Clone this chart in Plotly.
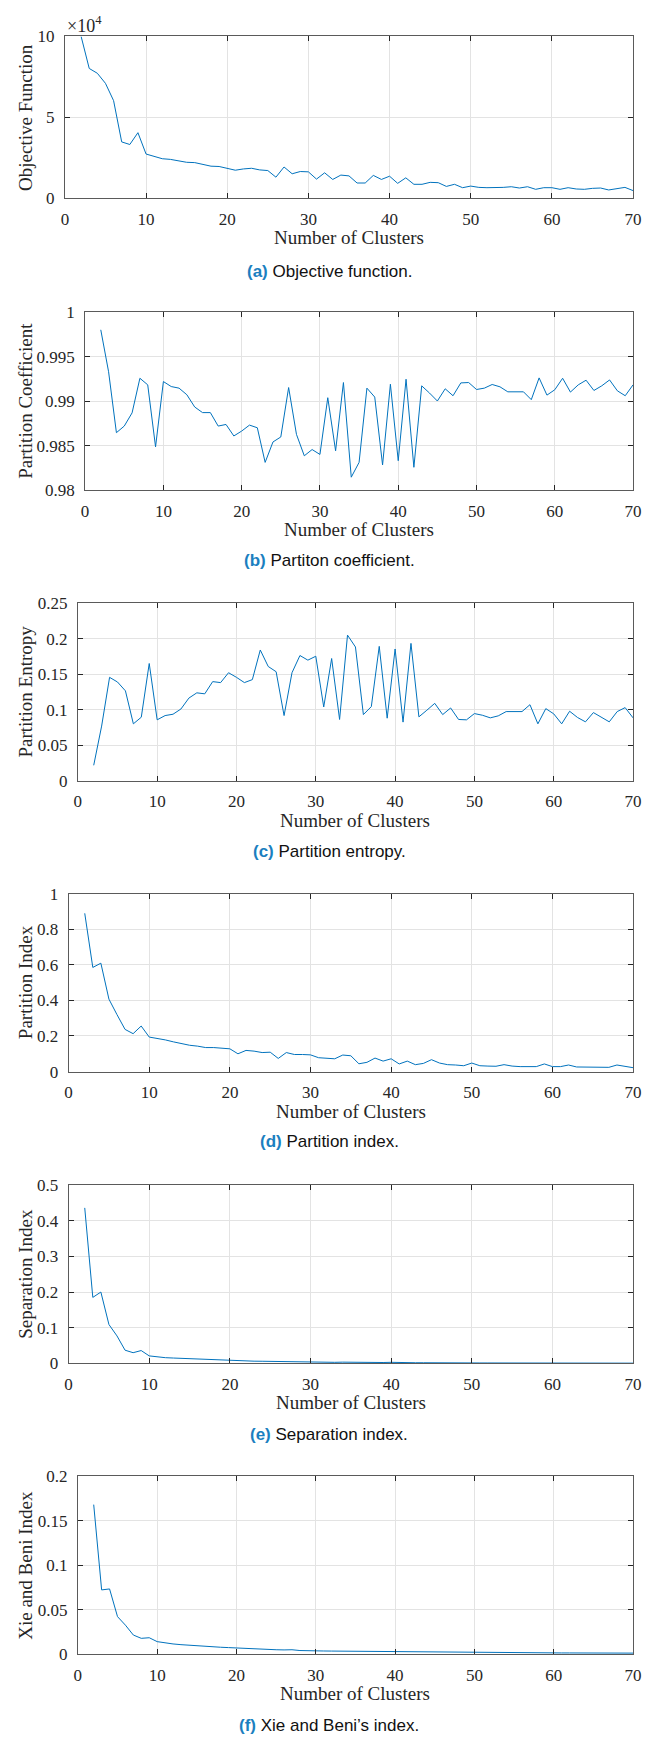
import plotly.graph_objects as go

W, H = 666, 1745

clusters = list(range(2, 71))

objective = [100000, 80200, 77200, 71000, 60300, 34800, 33200, 40500, 27300, 25900,
             24400, 24000, 23200, 22200, 22000, 20800, 19800, 19600, 18500, 17300,
             18100, 18500, 17500, 17100, 13000, 19300, 15100, 16500, 16300, 11800,
             15700, 11600, 14300, 13800, 9400, 9400, 14100, 11600, 13600, 9200,
             12600, 8600, 8600, 9800, 9600, 7300, 8600, 6500, 7500, 6700,
             6500, 6500, 6700, 7100, 6300, 7100, 5500, 6500, 6500, 5500,
             6500, 5700, 5500, 6100, 6300, 5100, 5700, 6700, 4700]

partition_coef = [0.99800, 0.99330, 0.98647, 0.98721, 0.98869, 0.99257, 0.99183, 0.98488, 0.99220, 0.99164,
                  0.99146, 0.99072, 0.98935, 0.98872, 0.98872, 0.98721, 0.98739, 0.98610, 0.98665, 0.98732,
                  0.98702, 0.98314, 0.98543, 0.98599, 0.99153, 0.98628, 0.98388, 0.98458, 0.98403, 0.99039,
                  0.98444, 0.99209, 0.98148, 0.98314, 0.99146, 0.99046, 0.98285, 0.99190, 0.98333, 0.99246,
                  0.98259, 0.99172, 0.99091, 0.99002, 0.99139, 0.99061, 0.99205, 0.99209, 0.99131, 0.99146,
                  0.99187, 0.99161, 0.99105, 0.99105, 0.99105, 0.99017, 0.99261, 0.99068, 0.99128, 0.99257,
                  0.99102, 0.99183, 0.99235, 0.99120, 0.99172, 0.99238, 0.99116, 0.99061, 0.99183]

partition_entropy = [0.0218, 0.0770, 0.1456, 0.1390, 0.1266, 0.0802, 0.0895, 0.1651, 0.0858, 0.0918,
                     0.0937, 0.1011, 0.1164, 0.1238, 0.1224, 0.1396, 0.1382, 0.1521, 0.1456, 0.1382,
                     0.1424, 0.1841, 0.1609, 0.1535, 0.0918, 0.1521, 0.1763, 0.1698, 0.1753, 0.1039,
                     0.1721, 0.0863, 0.2050, 0.1883, 0.0932, 0.1044, 0.1892, 0.0881, 0.1855, 0.0826,
                     0.1934, 0.0900, 0.0993, 0.1090, 0.0932, 0.1025, 0.0863, 0.0858, 0.0946, 0.0923,
                     0.0886, 0.0914, 0.0974, 0.0969, 0.0974, 0.1071, 0.0802, 0.1016, 0.0942, 0.0802,
                     0.0979, 0.0891, 0.0830, 0.0960, 0.0900, 0.0830, 0.0974, 0.1030, 0.0886]

partition_index = [0.889, 0.585, 0.609, 0.407, 0.320, 0.237, 0.213, 0.256, 0.194, 0.187,
                   0.178, 0.167, 0.157, 0.148, 0.143, 0.135, 0.135, 0.133, 0.128, 0.100,
                   0.119, 0.115, 0.107, 0.109, 0.074, 0.107, 0.096, 0.096, 0.094, 0.078,
                   0.076, 0.072, 0.093, 0.089, 0.044, 0.052, 0.076, 0.059, 0.072, 0.043,
                   0.059, 0.039, 0.046, 0.067, 0.048, 0.039, 0.037, 0.033, 0.048, 0.033,
                   0.031, 0.030, 0.039, 0.031, 0.028, 0.028, 0.028, 0.043, 0.028, 0.028,
                   0.037, 0.026, 0.026, 0.026, 0.024, 0.024, 0.037, 0.028, 0.022]

separation_index = [0.436, 0.185, 0.200, 0.109, 0.077, 0.037, 0.030, 0.036, 0.021, 0.018,
                    0.016, 0.015, 0.014, 0.012, 0.011, 0.010, 0.0095, 0.0090, 0.0080, 0.0065,
                    0.0065, 0.0062, 0.0060, 0.0055, 0.0045, 0.0060, 0.0045, 0.0045, 0.0040, 0.0030,
                    0.0035, 0.0030, 0.0035, 0.0030, 0.0020, 0.0020, 0.0030, 0.0025, 0.0030, 0.0020,
                    0.0025, 0.0018, 0.0018, 0.0020, 0.0018, 0.0015, 0.0016, 0.0013, 0.0014, 0.0012,
                    0.0012, 0.0011, 0.0012, 0.0011, 0.0010, 0.0011, 0.0009, 0.0010, 0.0009, 0.0008,
                    0.0009, 0.0008, 0.0008, 0.0008, 0.0008, 0.0007, 0.0008, 0.0008, 0.0007]

xie_beni = [0.1680, 0.0722, 0.0733, 0.0422, 0.0326, 0.0215, 0.0178, 0.0185, 0.0141, 0.0126,
            0.0115, 0.0107, 0.0100, 0.0093, 0.0085, 0.0081, 0.0078, 0.0074, 0.0070, 0.0059,
            0.0058, 0.0056, 0.0054, 0.0050, 0.0048, 0.0050, 0.0041, 0.0042, 0.0040, 0.0036,
            0.0035, 0.0034, 0.0033, 0.0032, 0.0031, 0.0030, 0.0030, 0.0029, 0.0028, 0.0027,
            0.0026, 0.0025, 0.0024, 0.0023, 0.0022, 0.0021, 0.0020, 0.0019, 0.0019, 0.0018,
            0.0018, 0.0017, 0.0017, 0.0016, 0.0016, 0.0016, 0.0015, 0.0015, 0.0015, 0.0014,
            0.0014, 0.0014, 0.0013, 0.0013, 0.0013, 0.0012, 0.0012, 0.0012, 0.0012]

x_ticks = [0, 10, 20, 30, 40, 50, 60, 70]
x_title = "Number of Clusters"

panels = [
    dict(y=objective, ytitle="Objective Function", yrange=[0, 100000],
         tickvals=[0, 50000, 100000], ticktext=["0", "5", "10"],
         cap_letter="(a)", cap_text=" Objective function.",
         box=(62.0, 27.7, 640.6, 191.3), cap_y=265),
    dict(y=partition_coef, ytitle="Partition Coefficient", yrange=[0.98, 1.0],
         tickvals=[0.98, 0.985, 0.99, 0.995, 1.0], ticktext=["0.98", "0.985", "0.99", "0.995", "1"],
         cap_letter="(b)", cap_text=" Partiton coefficient.",
         box=(82.6, 306.3, 640.6, 486.7), cap_y=557.7),
    dict(y=partition_entropy, ytitle="Partition Entropy", yrange=[0, 0.25],
         tickvals=[0, 0.05, 0.1, 0.15, 0.2, 0.25], ticktext=["0", "0.05", "0.1", "0.15", "0.2", "0.25"],
         cap_letter="(c)", cap_text=" Partition entropy.",
         box=(75.2, 600.7, 640.6, 780.3), cap_y=851.7),
    dict(y=partition_index, ytitle="Partition Index", yrange=[0, 1],
         tickvals=[0, 0.2, 0.4, 0.6, 0.8, 1], ticktext=["0", "0.2", "0.4", "0.6", "0.8", "1"],
         cap_letter="(d)", cap_text=" Partition index.",
         box=(65.8, 894.3, 640.6, 1074.3), cap_y=1145),
    dict(y=separation_index, ytitle="Separation Index", yrange=[0, 0.5],
         tickvals=[0, 0.1, 0.2, 0.3, 0.4, 0.5], ticktext=["0", "0.1", "0.2", "0.3", "0.4", "0.5"],
         cap_letter="(e)", cap_text=" Separation index.",
         box=(65.8, 1189.0, 640.6, 1369.3), cap_y=1441),
    dict(y=xie_beni, ytitle="Xie and Beni Index", yrange=[0, 0.2],
         tickvals=[0, 0.05, 0.1, 0.15, 0.2], ticktext=["0", "0.05", "0.1", "0.15", "0.2"],
         cap_letter="(f)", cap_text=" Xie and Beni\u2019s index.",
         box=(75.2, 1483.3, 640.6, 1663.3), cap_y=1735),
]

SERIF = "Liberation Serif, Times New Roman, serif"
SANS = "Liberation Sans, Arial, sans-serif"
LINE = "#0072BD"
TXT = "#262626"

def px2x(px):
    return px / W

def px2y(py):
    return 1 - py / H

fig = go.Figure()
annotations = []

for i, p in enumerate(panels, start=1):
    xa = "x" if i == 1 else f"x{i}"
    ya = "y" if i == 1 else f"y{i}"
    fig.add_trace(go.Scatter(x=clusters, y=p["y"], mode="lines",
                             line=dict(color=LINE, width=1),
                             xaxis=xa, yaxis=ya, showlegend=False, cliponaxis=True))
    l, t, r, b = p["box"]
    axis_common = dict(showline=True, linecolor="#5a5a5a", linewidth=1, mirror="allticks",
                       ticks="inside", ticklen=5, tickcolor=TXT, tickwidth=1,
                       showgrid=True, gridcolor="#e3e3e3", gridwidth=1, zeroline=False,
                       tickfont=dict(family=SERIF, size=17, color=TXT))
    fig.layout[f"xaxis{'' if i == 1 else i}"] = dict(
        domain=[px2x(l), px2x(r)], range=[0, 70], tickvals=x_ticks,
        anchor=ya, ticklabelstandoff=5, **axis_common)
    fig.layout[f"yaxis{'' if i == 1 else i}"] = dict(
        domain=[px2y(b), px2y(t)], range=p["yrange"], tickvals=p["tickvals"],
        ticktext=p["ticktext"], anchor=xa, ticklabelstandoff=6, **axis_common)
    annotations.append(dict(text=p["ytitle"], textangle=-90, xref="paper", yref="paper",
                            x=px2x(22), y=px2y((t + b) / 2), showarrow=False,
                            xanchor="center", yanchor="middle",
                            font=dict(family=SERIF, size=19, color=TXT)))
    annotations.append(dict(text=x_title, xref="paper", yref="paper",
                            x=px2x((l + r) / 2), y=px2y(b + 40), showarrow=False,
                            xanchor="center", yanchor="middle",
                            font=dict(family=SERIF, size=19, color=TXT)))
    annotations.append(dict(text=f"<b><span style='color:#1b7fc0'>{p['cap_letter']}</span></b>{p['cap_text']}",
                            xref="paper", yref="paper", x=px2x(331), y=px2y(p["cap_y"]),
                            showarrow=False, xanchor="center", yanchor="middle",
                            font=dict(family=SANS, size=17, color="#111111")))

annotations.append(dict(text="\u00d710<sup>4</sup>", xref="paper", yref="paper",
                        x=px2x(62), y=px2y(16), showarrow=False, xanchor="left", yanchor="middle",
                        font=dict(family=SERIF, size=18, color=TXT)))

fig.update_layout(width=W, height=H, margin=dict(l=0, r=0, t=0, b=0),
                  paper_bgcolor="white", plot_bgcolor="white",
                  annotations=annotations, showlegend=False)

fig.write_html("out.html",
               config={"displayModeBar": False},
               post_script="document.body.style.margin='0';document.body.style.padding='0';"
                           "document.documentElement.style.overflow='hidden';")
